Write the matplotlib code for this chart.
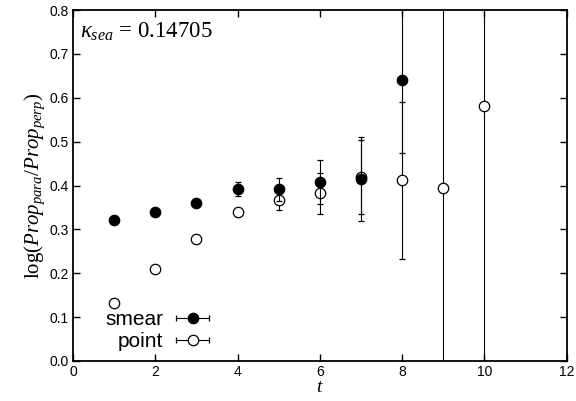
import numpy as np
import matplotlib
matplotlib.use("Agg")
import matplotlib.pyplot as plt
from matplotlib.legend_handler import HandlerErrorbar

plt.rcParams['font.family'] = ['Liberation Sans', 'DejaVu Sans']
plt.rcParams['mathtext.fontset'] = 'custom'
plt.rcParams['mathtext.rm'] = 'Liberation Serif'
plt.rcParams['mathtext.it'] = 'Liberation Serif:italic'

# smear source
t_smear = [1, 2, 3, 4, 5, 6, 7, 8]
y_smear = [0.321, 0.339, 0.359, 0.391, 0.391, 0.407, 0.415, 0.640]
e_smear = [0.004, 0.004, 0.004, 0.016, 0.027, 0.050, 0.095, 0.165]

# point source
t_point = [1, 2, 3, 4, 5, 6, 7, 8, 9, 10]
y_point = [0.133, 0.209, 0.279, 0.339, 0.367, 0.382, 0.420, 0.412, 0.395, 0.582]
e_point = [0.004, 0.004, 0.005, 0.006, 0.023, 0.046, 0.084, 0.179, 1.5, 1.5]

fig = plt.figure(figsize=(5.76, 4.01), dpi=100)
ax = fig.add_axes([0.1267, 0.0998, 0.8573, 0.8752])

eb = dict(ecolor='black', elinewidth=0.8, capsize=2.5, capthick=0.8, ms=7.5, mew=0.9, mec='black', ls='none')
ax.errorbar(t_point, y_point, yerr=e_point, fmt='o', mfc='white', zorder=3, **eb)
ax.errorbar(t_smear, y_smear, yerr=e_smear, fmt='o', mfc='black', zorder=4, **eb)

# legend handles with horizontal bars
h1 = ax.errorbar([np.nan], [np.nan], xerr=[1], fmt='o', mfc='black', **eb)
h2 = ax.errorbar([np.nan], [np.nan], xerr=[1], fmt='o', mfc='white', **eb)
ax.legend([h1, h2], ['smear', 'point'], loc='lower left', bbox_to_anchor=(0.049, 0.004),
          frameon=False, markerfirst=False, fontsize=15, handlelength=1.6,
          handletextpad=0.6, labelspacing=0.15, borderaxespad=0,
          handler_map={type(h1): HandlerErrorbar(xerr_size=0.8)})

ax.text(0.014, 0.97, r'$\kappa_{sea}$ = 0.14705', transform=ax.transAxes,
        fontsize=16.5, family='Liberation Serif', va='top', ha='left')

ax.set_xlim(0, 12)
ax.set_ylim(0, 0.8)
ax.set_xticks(range(0, 13, 2))
ax.set_yticks(np.arange(0, 0.81, 0.1))
ax.set_yticklabels(['%.1f' % v for v in np.arange(0, 0.81, 0.1)])
ax.tick_params(direction='in', top=True, right=True, length=5, width=1, labelsize=10, pad=3)
for s in ax.spines.values():
    s.set_linewidth(1.3)

ax.set_xlabel(r'$t$', fontsize=14, labelpad=0)
ax.set_ylabel(r'$\mathrm{log}(\mathit{Prop}_{para}/\mathit{Prop}_{perp})$', fontsize=15, labelpad=2)

fig.savefig('out.png', dpi=100)
